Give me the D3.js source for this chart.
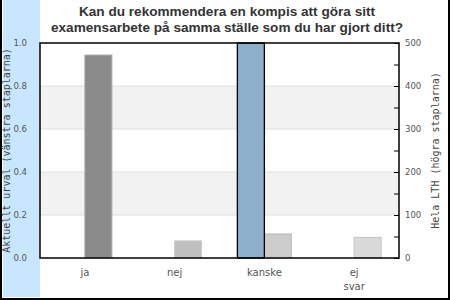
<!DOCTYPE html>
<html>
<head>
<meta charset="utf-8">
<script src="https://cdn.jsdelivr.net/npm/d3@7"></script>
<style>
  body { margin: 0; background: #fff; }
  text { fill: #444; }
</style>
</head>
<body>
<div id="chart"></div>
<script>
// Answers and values
var categories = ["ja", "nej", "kanske", "ej svar"];
var urval = [0, 0, 1.0, 0];          // left axis, current sample
var helaLTH = [472, 40, 56, 48];     // right axis, whole LTH
var leftTicks = [0, 0.2, 0.4, 0.6, 0.8, 1.0];
var rightTicks = [0, 100, 200, 300, 400, 500];
var titleLines = ["Kan du rekommendera en kompis att göra sitt",
                  "examensarbete på samma ställe som du har gjort ditt?"];

var width = 450, height = 300;
var margin = {top: 43, right: 51, bottom: 42, left: 40};
var plotW = width - margin.left - margin.right,
    plotH = height - margin.top - margin.bottom;

var svg = d3.select("#chart").append("svg")
    .attr("width", width)
    .attr("height", height);

// blue strip on the left
svg.append("rect")
    .attr("x", 3).attr("y", 0)
    .attr("width", 37).attr("height", 297)
    .attr("fill", "#c8e6ff");

// outer border (left, bottom, right)
svg.append("path")
    .attr("d", "M1,0V299H449V0")
    .attr("fill", "none")
    .attr("stroke", "#000")
    .attr("stroke-width", 2);

// title
svg.append("g").selectAll("text")
    .data(titleLines)
    .enter().append("text")
      .attr("x", 227)
      .attr("y", function(d, i) { return 16 + i * 15.5; })
      .attr("text-anchor", "middle")
      .style("font-family", "'Liberation Sans', Arial, sans-serif")
      .style("font-weight", "bold")
      .style("font-size", "13.6px")
      .style("fill", "#333")
      .text(function(d) { return d; });

var g = svg.append("g")
    .attr("transform", "translate(" + margin.left + "," + margin.top + ")");

var x = d3.scaleBand()
    .domain(categories)
    .range([0, plotW]);

var yL = d3.scaleLinear().domain([0, 1]).range([plotH, 0]);
var yR = d3.scaleLinear().domain([0, 500]).range([plotH, 0]);

// alternating grid bands
var bands = d3.pairs(leftTicks).filter(function(p, i) { return i % 2 === 1; });
g.selectAll(".band")
    .data(bands)
    .enter().append("rect")
      .attr("x", 0)
      .attr("width", plotW)
      .attr("y", function(d) { return yL(d[1]); })
      .attr("height", function(d) { return yL(d[0]) - yL(d[1]); })
      .attr("fill", "#f2f2f2");

g.selectAll(".grid")
    .data(leftTicks.slice(1, -1))
    .enter().append("line")
      .attr("x1", 0).attr("x2", plotW)
      .attr("y1", function(d) { return yL(d); })
      .attr("y2", function(d) { return yL(d); })
      .attr("stroke", "#e0e0e0");

var barW = 27;
var center = function(d) { return x(d) + x.bandwidth() / 2; };
var rightFill = d3.scaleOrdinal().domain(categories)
    .range(["#8a8a8a", "#bfbfbf", "#cccccc", "#d9d9d9"]);
var rightStroke = d3.scaleOrdinal().domain(categories)
    .range(["#aaaaaa", "#cfcfcf", "#bbbbbb", "#c4c4c4"]);

// right bars (Hela LTH)
g.selectAll(".barR")
    .data(categories)
    .enter().append("rect")
      .attr("x", function(d) { return center(d); })
      .attr("y", function(d, i) { return yR(helaLTH[i]); })
      .attr("width", barW)
      .attr("height", function(d, i) { return plotH - yR(helaLTH[i]); })
      .attr("fill", function(d) { return rightFill(d); })
      .attr("stroke", function(d) { return rightStroke(d); });

// left bars (aktuellt urval)
g.selectAll(".barL")
    .data(categories.filter(function(d, i) { return urval[i] > 0; }))
    .enter().append("rect")
      .attr("x", function(d) { return center(d) - barW; })
      .attr("y", function(d) { return yL(urval[categories.indexOf(d)]); })
      .attr("width", barW)
      .attr("height", function(d) { return plotH - yL(urval[categories.indexOf(d)]); })
      .attr("fill", "#8eafcb")
      .attr("stroke", "#000")
      .attr("stroke-width", 1.3);

// frame
g.append("rect")
    .attr("width", plotW).attr("height", plotH)
    .attr("fill", "none")
    .attr("stroke", "#000")
    .attr("stroke-width", 1.5);

// left axis labels
g.selectAll(".lt")
    .data(leftTicks)
    .enter().append("text")
      .attr("x", -13)
      .attr("y", function(d) { return yL(d); })
      .attr("dy", "0.35em")
      .attr("text-anchor", "end")
      .style("font-family", "'DejaVu Sans Condensed', 'DejaVu Sans', sans-serif")
      .style("font-stretch", "condensed")
      .style("font-size", "9.5px")
      .style("fill", "#555")
      .text(d3.format(".1f"));

// right axis: inward ticks every 50
g.append("g")
    .attr("transform", "translate(" + plotW + ",0)")
    .call(d3.axisLeft(yR).ticks(10).tickSize(5).tickFormat(""))
    .call(function(a) {
      a.select(".domain").remove();
      a.selectAll("line").attr("stroke", "#000");
    });

g.selectAll(".rt")
    .data(rightTicks)
    .enter().append("text")
      .attr("x", plotW + 6)
      .attr("y", function(d) { return yR(d); })
      .attr("dy", "0.35em")
      .style("font-family", "'DejaVu Sans Condensed', 'DejaVu Sans', sans-serif")
      .style("font-stretch", "condensed")
      .style("font-size", "9.5px")
      .style("fill", "#555")
      .text(function(d) { return d; });

// category labels
var cat = g.selectAll(".cat")
    .data(categories)
    .enter().append("text")
      .attr("y", plotH + 18)
      .attr("text-anchor", "middle")
      .style("font-family", "'DejaVu Sans', sans-serif")
      .style("font-size", "10px")
      .style("fill", "#555");
cat.selectAll("tspan")
    .data(function(d) { return d.split(" ").map(function(w) { return {w: w, c: d}; }); })
    .enter().append("tspan")
      .attr("x", function(d) { return center(d.c); })
      .attr("dy", function(d, i) { return i === 0 ? 0 : 14; })
      .text(function(d) { return d.w; });

// axis titles
svg.append("text")
    .attr("transform", "translate(10," + (margin.top + plotH / 2) + ") rotate(-90)")
    .attr("text-anchor", "middle")
    .style("font-family", "'DejaVu Sans Mono', monospace")
    .style("font-size", "10px")
    .text("Aktuellt urval (vänstra staplarna)");

svg.append("text")
    .attr("transform", "translate(439," + (margin.top + plotH / 2) + ") rotate(-90)")
    .attr("text-anchor", "middle")
    .style("font-family", "'DejaVu Sans Mono', monospace")
    .style("font-size", "10px")
    .text("Hela LTH (högra staplarna)");
</script>
</body>
</html>
